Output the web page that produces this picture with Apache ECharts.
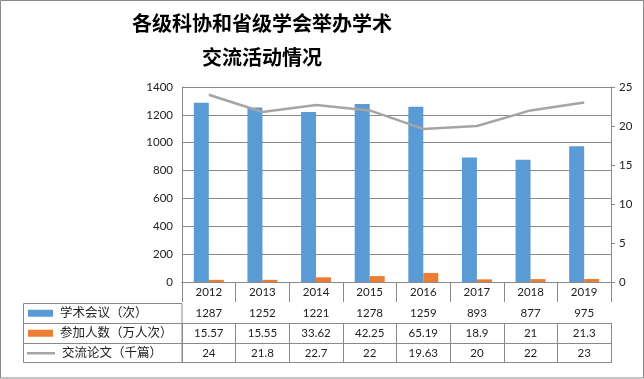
<!DOCTYPE html>
<html><head><meta charset="utf-8">
<script src="https://cdn.jsdelivr.net/npm/echarts@6/dist/echarts.min.js"></script>
<style>html,body{margin:0;padding:0;background:#fff}#c{width:644px;height:379px}</style>
</head><body><div id="c"></div><script>
const years = ['2012','2013','2014','2015','2016','2017','2018','2019'];
const meetings = [1287, 1252, 1221, 1278, 1259, 893, 877, 975];
const participants = [15.57, 15.55, 33.62, 42.25, 65.19, 18.9, 21, 21.3];
const papers = [24, 21.8, 22.7, 22, 19.63, 20, 22, 23];
const seriesNames = ['学术会议（次）', '参加人数（万人次）', '交流论文（千篇）'];
const titleLines = ['各级科协和省级学会举办学术', '交流活动情况'];

const GRID = {left: 182, top: 87, width: 429, height: 195};
const LINE = '#898989';
const TXT = '#222';
const FONT = 'Lato, "Noto Sans CJK SC", sans-serif';
const ROW_OFF = [0, 21, 41, 61, 80];

function tableAxis(data, offset, showLabel) {
  return {
    type: 'category', data: data.map(String), gridIndex: 0, position: 'bottom', offset: offset,
    boundaryGap: true,
    axisLine: {show: true, lineStyle: {color: LINE, width: 1}},
    axisTick: {show: showLabel, interval: 0, alignWithLabel: false, length: 20, inside: false, lineStyle: {color: LINE}},
    axisLabel: {show: showLabel, interval: 0, margin: 10.5, verticalAlign: 'middle', color: TXT, fontSize: 11.5, fontFamily: FONT},
    splitLine: {show: false}
  };
}

function legendFor(name, top, left, w, h) {
  return {
    data: [{name: name, icon: 'rect'}], orient: 'vertical', left: left, top: top, padding: 0,
    itemWidth: w, itemHeight: h, selectedMode: false,
    textStyle: {color: TXT, fontSize: 12.5, fontFamily: FONT, padding: [0, 0, 0, 2]}
  };
}

function titleFor(text, top) {
  return {
    text: text, left: 262, top: top, padding: 0, textAlign: 'center',
    textStyle: {fontSize: 20, lineHeight: 24, fontWeight: 'bold', color: '#000', fontFamily: '"Noto Sans CJK SC", sans-serif'}
  };
}

const chart = echarts.init(document.getElementById('c'), null, {renderer: 'canvas'});
chart.setOption({
  animation: false,
  backgroundColor: '#fff',
  title: [titleFor(titleLines[0], 11), titleFor(titleLines[1], 45)],
  grid: GRID,
  legend: [
    legendFor(seriesNames[0], 307, 28, 25, 7),
    legendFor(seriesNames[1], 327, 28, 25, 7),
    legendFor(seriesNames[2], 347, 27, 28, 2.5)
  ],
  xAxis: [
    tableAxis(years, ROW_OFF[0], true),
    tableAxis(meetings, ROW_OFF[1], true),
    tableAxis(participants, ROW_OFF[2], true),
    tableAxis(papers, ROW_OFF[3], true),
    tableAxis(years.map(() => ''), ROW_OFF[4], false)
  ],
  yAxis: [
    {
      type: 'value', min: 0, max: 1400, interval: 200, position: 'left',
      axisLine: {show: true, lineStyle: {color: LINE}},
      axisTick: {show: false},
      axisLabel: {margin: 9, color: TXT, fontSize: 11.5, fontFamily: FONT, formatter: v => String(v)},
      splitLine: {show: true, lineStyle: {color: LINE, width: 1}}
    },
    {
      type: 'value', min: 0, max: 25, interval: 5, position: 'right',
      axisLine: {show: true, lineStyle: {color: LINE}},
      axisTick: {show: true, length: 4, lineStyle: {color: LINE}},
      axisLabel: {margin: 8, color: TXT, fontSize: 11.5, fontFamily: FONT, formatter: v => String(v)},
      splitLine: {show: false}
    }
  ],
  series: [
    {name: seriesNames[0], type: 'bar', xAxisIndex: 0, yAxisIndex: 0, data: meetings,
     barWidth: 15, barGap: '0%', itemStyle: {color: '#5B9BD5'}},
    {name: seriesNames[1], type: 'bar', xAxisIndex: 0, yAxisIndex: 0, data: participants,
     barWidth: 15, barGap: '0%', itemStyle: {color: '#ED7D31'}},
    {name: seriesNames[2], type: 'line', xAxisIndex: 0, yAxisIndex: 1, data: papers,
     symbol: 'none', color: '#A5A5A5', lineStyle: {color: '#A5A5A5', width: 2.5}, itemStyle: {color: '#A5A5A5'}}
  ],
  graphic: [
    {type: 'rect', silent: true, shape: {x: 0.5, y: 0.5, width: 643, height: 377.5},
     style: {fill: 'none', stroke: LINE, lineWidth: 1}},
    {type: 'rect', silent: true, shape: {x: 23.5, y: 303.5, width: 158.5, height: 59},
     style: {fill: 'none', stroke: LINE, lineWidth: 1}},
    {type: 'line', silent: true, shape: {x1: 23.5, y1: 323.5, x2: 182, y2: 323.5},
     style: {stroke: LINE, lineWidth: 1}},
    {type: 'line', silent: true, shape: {x1: 23.5, y1: 343.5, x2: 182, y2: 343.5},
     style: {stroke: LINE, lineWidth: 1}}
  ]
});
</script></body></html>
